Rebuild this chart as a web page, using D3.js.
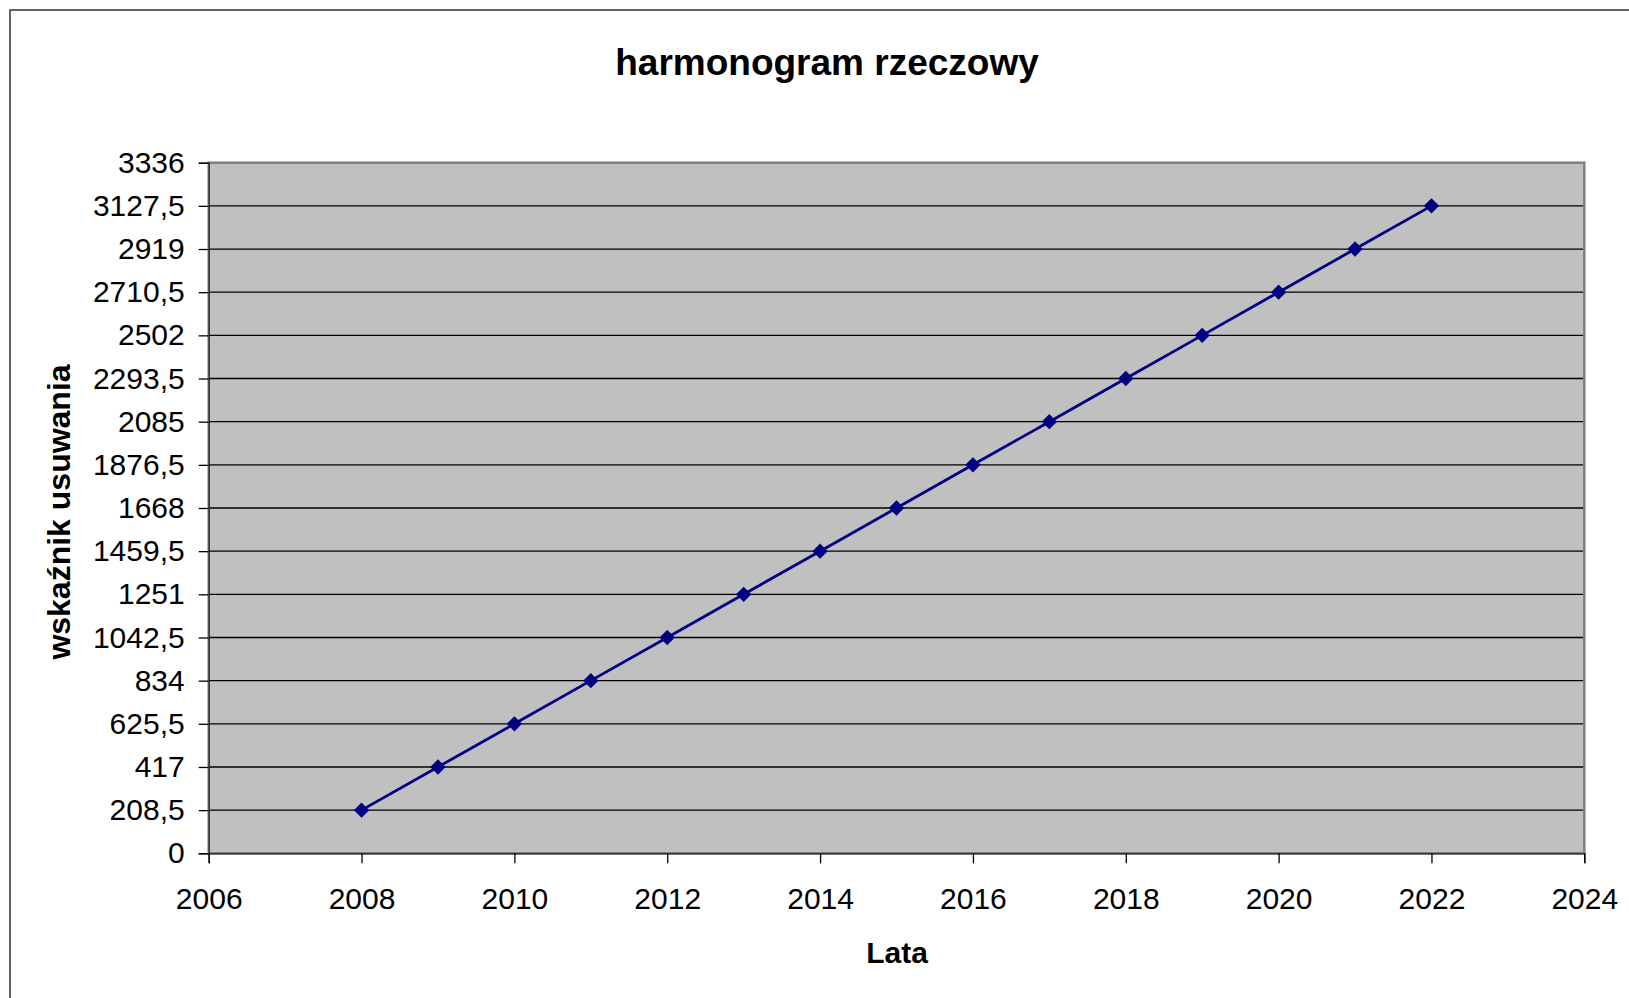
<!DOCTYPE html>
<html>
<head>
<meta charset="utf-8">
<script src="https://cdn.jsdelivr.net/npm/d3@7"></script>
<style>
  body { margin: 0; background: #fff; }
  text { font-family: "Liberation Sans", Arial, sans-serif; fill: #000; }
</style>
</head>
<body>
<script>
    // dane
    const years = [2008, 2009, 2010, 2011, 2012, 2013, 2014, 2015, 2016, 2017, 2018, 2019, 2020, 2021, 2022];
    const values = [208.5, 417, 625.5, 834, 1042.5, 1251, 1459.5, 1668, 1876.5, 2085, 2293.5, 2502, 2710.5, 2919, 3127.5];
    const yTicks = [0, 208.5, 417, 625.5, 834, 1042.5, 1251, 1459.5, 1668, 1876.5, 2085, 2293.5, 2502, 2710.5, 2919, 3127.5, 3336];
    const xTicks = [2006, 2008, 2010, 2012, 2014, 2016, 2018, 2020, 2022, 2024];

    const data = years.map((y, i) => ({year: y, value: values[i]}));

    var svg = d3.select("body").append("svg")
      .attr("width", 1629)
      .attr("height", 998)

    // ramka wykresu
    svg.append("rect")
      .attr("x", 10).attr("y", 10)
      .attr("width", 1700).attr("height", 1100)
      .attr("fill", "#fff")
      .attr("stroke", "#333")
      .attr("stroke-width", 1.5)

    const plotL = 208.7, plotR = 1584.3, plotT = 162.7, plotB = 853.3;

    const xScale = d3.scaleLinear()
      .domain([2006, 2024])
      .range([plotL, plotR])

    const yScale = d3.scaleLinear()
      .domain([0, 3336])
      .range([plotB, plotT])

    svg.append("rect")
      .attr("x", plotL).attr("y", plotT)
      .attr("width", plotR - plotL).attr("height", plotB - plotT)
      .attr("fill", "#c0c0c0")

    // linie siatki
    svg.append("g")
      .selectAll("line")
      .data(yTicks.slice(1, -1))
      .enter()
      .append("line")
      .attr("x1", plotL).attr("x2", plotR)
      .attr("y1", d => yScale(d)).attr("y2", d => yScale(d))
      .attr("stroke", "#000")
      .attr("stroke-width", 1.3)

    svg.append("rect")
      .attr("x", plotL).attr("y", plotT)
      .attr("width", plotR - plotL).attr("height", plotB - plotT)
      .attr("fill", "none")
      .attr("stroke", "#808080")
      .attr("stroke-width", 2.5)

    const fmt = d => String(d).replace(".", ",");

    const yAxis = svg.append("g")
      .attr("transform", `translate(${plotL},0)`)
      .call(d3.axisLeft(yScale).tickValues(yTicks).tickFormat(fmt).tickSize(10).tickPadding(14))
    yAxis.select(".domain").attr("stroke", "#333").attr("stroke-width", 1.5)
    yAxis.selectAll(".tick line").attr("stroke", "#000").attr("stroke-width", 1.3)
    yAxis.selectAll("text").attr("font-size", 30).attr("font-family", "Liberation Sans, Arial, sans-serif").attr("fill", "#000")

    const xAxis = svg.append("g")
      .attr("transform", `translate(0,${plotB})`)
      .call(d3.axisBottom(xScale).tickValues(xTicks).tickFormat(d3.format("d")).tickSize(10).tickPadding(24))
    xAxis.select(".domain").attr("stroke", "#333").attr("stroke-width", 1.5)
    xAxis.selectAll(".tick line").attr("stroke", "#000").attr("stroke-width", 1.3)
    xAxis.selectAll("text").attr("font-size", 30).attr("font-family", "Liberation Sans, Arial, sans-serif").attr("fill", "#000")

    // seria
    const line = d3.line()
      .x(d => xScale(d.year))
      .y(d => yScale(d.value))

    svg.append("path")
      .datum(data)
      .attr("d", line)
      .attr("fill", "none")
      .attr("stroke", "#000080")
      .attr("stroke-width", 2.8)

    svg.selectAll(".marker")
      .data(data)
      .enter()
      .append("path")
      .attr("class", "marker")
      .attr("transform", d => `translate(${xScale(d.year)},${yScale(d.value)})`)
      .attr("d", d3.symbol().type(d3.symbolDiamond2).size(150))
      .attr("fill", "#000080")

    // tytuły
    svg.append("text")
      .attr("x", 827).attr("y", 75)
      .attr("text-anchor", "middle")
      .attr("font-size", 37).attr("font-weight", "bold")
      .text("harmonogram rzeczowy")

    svg.append("text")
      .attr("x", 897).attr("y", 963)
      .attr("text-anchor", "middle")
      .attr("font-size", 30).attr("font-weight", "bold")
      .text("Lata")

    svg.append("text")
      .attr("transform", "translate(70,512) rotate(-90)")
      .attr("text-anchor", "middle")
      .attr("font-size", 32).attr("font-weight", "bold")
      .text("wskaźnik usuwania")
</script>
</body>
</html>
